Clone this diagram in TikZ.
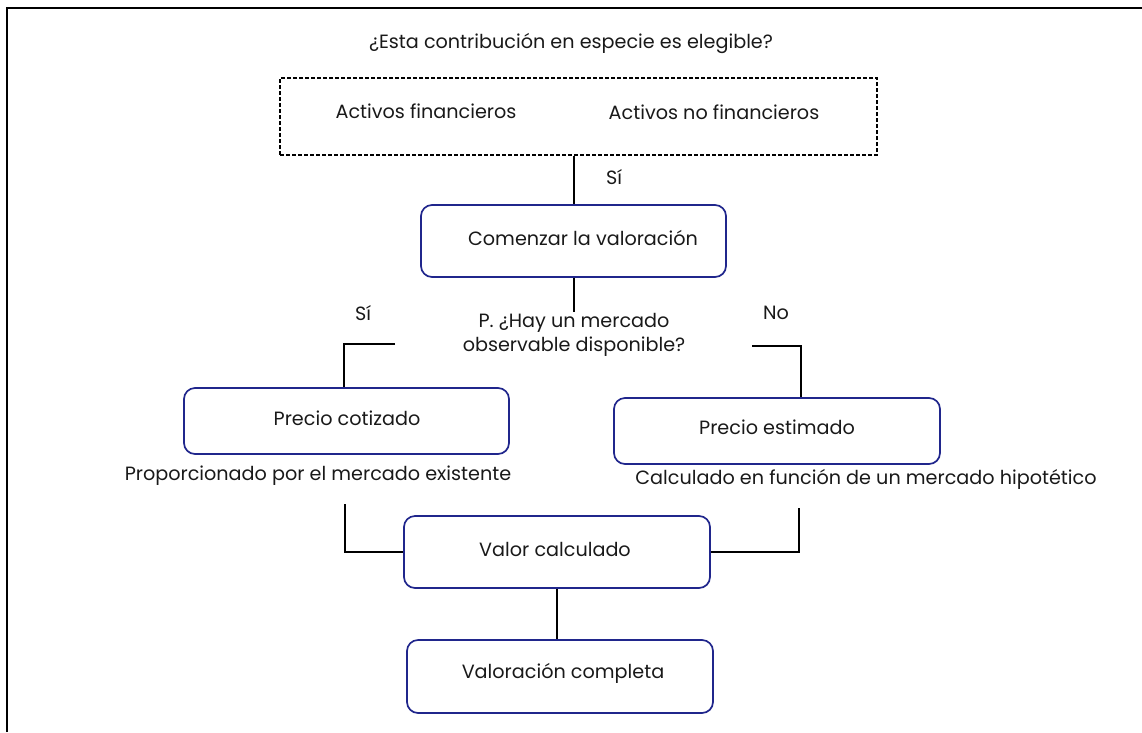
\documentclass[tikz,border=0pt]{standalone}
\usepackage{fontspec}
\setmainfont{Poppins}
\definecolor{boxblue}{RGB}{32,38,140}
\definecolor{ink}{RGB}{25,25,25}
\begin{document}
\begin{tikzpicture}[x=1pt,y=-1pt,
  every node/.style={text=ink, font=\fontsize{19.2}{24}\selectfont, inner sep=0pt},
  stepbox/.style={draw=boxblue, line width=1.7pt, rounded corners=11pt},
  dbox/.style={draw=black, line width=1.1pt, dash pattern=on 4pt off 2pt},
  conn/.style={draw=black, line width=2.6pt},
  frame/.style={draw=black, line width=2pt}]
\useasboundingbox (0,0) rectangle (1142,732);
\draw[frame] (7,732) -- (7,8) -- (1142,8);

\node (title) at (571,44) {¿Esta contribución en especie es elegible?};
\node[dbox, minimum width=597pt, minimum height=77pt] (assets) at (578.5,116.5) {};
\node (fin) at (426,111) {Activos financieros};
\node (nofin) at (714,112) {Activos no financieros};
\node (si1) at (614,177) {Sí};

\node[stepbox, minimum width=305pt, minimum height=72pt] (start) at (573.5,241) {};
\node (starttxt) at (583,238) {Comenzar la valoración};

\node[align=center] (q) at (574,335) {P. ¿Hay un mercado\\observable disponible?};
\node (si2) at (363,313) {Sí};
\node (no) at (776,313) {No};
\coordinate (ql) at (395,344);
\coordinate (qr) at (752,346);

\node[stepbox, minimum width=325pt, minimum height=66pt] (quoted) at (346.5,421) {};
\node (quotedtxt) at (347,418) {Precio cotizado};
\node (quoteddesc) at (318,476) {Proporcionado por el mercado existente};

\node[stepbox, minimum width=326pt, minimum height=66pt] (est) at (777,431) {};
\node (esttxt) at (777,427) {Precio estimado};
\node (estdesc) at (866,479) {Calculado en función de un mercado hipotético};

\node[stepbox, minimum width=306pt, minimum height=72pt] (calc) at (557,552) {};
\node (calctxt) at (555,549) {Valor calculado};
\coordinate (pl) at (345,504);
\coordinate (pr) at (799,508);

\node[stepbox, minimum width=306pt, minimum height=73pt] (done) at (560,676.5) {};
\node (donetxt) at (563,673) {Valoración completa};

\draw[conn] (assets.south -| 574,0) -- (start.north -| 574,0);
\draw[conn] (start.south -| 574,0) -- (574,312);
\draw[conn] (ql) -| (quoted.north -| 344,0);
\draw[conn] (qr) -| (est.north -| 801,0);
\draw[conn] (pl) |- (calc.west);
\draw[conn] (pr) |- (calc.east);
\draw[conn] (calc.south -| 557,0) -- (done.north -| 557,0);
\end{tikzpicture}
\end{document}
